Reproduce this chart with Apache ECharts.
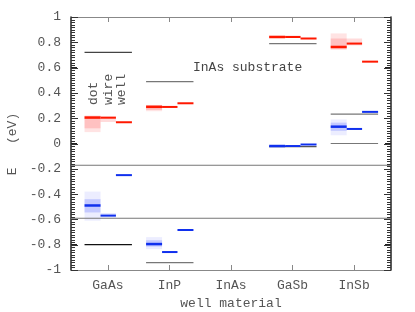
<!DOCTYPE html>
<html>
<head>
<meta charset="utf-8">
<script src="https://cdn.jsdelivr.net/npm/echarts@6/dist/echarts.min.js"></script>
<style>html,body{margin:0;padding:0;background:#fff;}#c{width:415px;height:312px;}</style>
</head>
<body>
<div id="c"></div>
<script>
// ---- data ----
const categories = ['GaAs', 'InP', 'InAs', 'GaSb', 'InSb'];
// conduction-band (red) main levels
const cbDot  = [0.205, 0.290, null, 0.842, 0.763];
const cbWire = [0.204, 0.289, null, 0.842, 0.790];
const cbWell = [0.168, 0.318, null, 0.830, 0.647];
// valence-band (blue) main levels
const vbDot  = [-0.490, -0.795, null, -0.020, 0.133];
const vbWire = [-0.570, -0.858, null, -0.020, 0.115];
const vbWell = [-0.250, -0.684, null, -0.008, 0.250];
// bulk band edges of each well material (grey/black bars)
const edgeHigh = [0.720, 0.489, null, 0.790, 0.233];
const edgeLow  = [-0.800, -0.942, null, -0.025, 0.000];
const edgeColors = ['#444', '#777', null, '#777', '#777'];
const edgeLowColors = ['#111', '#777', null, '#555', '#777'];
// InAs substrate band edges (full-width lines)
const substrateEdges = [-0.172, -0.591];
// faint spreads of dot / wire levels [low, high]
const cbDotSpread  = [[0.09, 0.222], [0.255, 0.305], null, [0.835, 0.852], [0.74, 0.87]];
const cbDotCore    = [[0.12, 0.215], [0.265, 0.300], null, null, [0.75, 0.83]];
const cbWireSpread = [[0.17, 0.215], [0.282, 0.296], null, [0.838, 0.854], [0.775, 0.83]];
const vbDotSpread  = [[-0.61, -0.38], [-0.835, -0.74], null, [-0.026, -0.014], [0.065, 0.19]];
const vbDotCore    = [[-0.545, -0.44], [-0.815, -0.765], null, null, [0.10, 0.165]];
const vbWireSpread = [[-0.585, -0.55], [-0.866, -0.85], null, null, [0.108, 0.122]];

// ---- build drawing items ----
const X_MIN = -0.6, X_MAX = 4.6, Y_MIN = -1, Y_MAX = 1;
const DOT = [-0.38, -0.12], WIRE = [-0.12, 0.13], WELL = [0.13, 0.39], FULL = [-0.38, 0.39];
const RED = '#ff1800', BLUE = '#1030ee';
const items = [];
function addLine(vals, span, color, w) {
  vals.forEach((v, i) => {
    if (v !== null) items.push({ value: [i + span[0], i + span[1], v, v], t: 'line', color: Array.isArray(color) ? color[i] : color, w });
  });
}
function addBand(vals, span, color) {
  vals.forEach((b, i) => { if (b) items.push({ value: [i + span[0], i + span[1], b[0], b[1]], t: 'rect', color }); });
}
addBand(cbDotSpread, DOT, 'rgba(255,40,40,0.13)');
addBand(cbDotCore, DOT, 'rgba(255,40,40,0.18)');
addBand(cbWireSpread, WIRE, 'rgba(255,40,40,0.17)');
addBand(vbDotSpread, DOT, 'rgba(40,60,255,0.09)');
addBand(vbDotCore, DOT, 'rgba(40,60,255,0.2)');
addBand(vbWireSpread, WIRE, 'rgba(40,60,255,0.13)');
addLine(edgeHigh, FULL, edgeColors, 1.2);
addLine(edgeLow, FULL, edgeLowColors, 1.2);
addLine(cbDot, DOT, RED, 2.5);
addLine(cbWire, WIRE, RED, 2);
addLine(cbWell, WELL, RED, 2);
addLine(vbDot, DOT, BLUE, 2.5);
addLine(vbWire, WIRE, BLUE, 2);
addLine(vbWell, WELL, BLUE, 2);
substrateEdges.forEach(v => items.push({ value: [X_MIN, X_MAX, v, v], t: 'line', color: '#777', w: 1 }));

// y-axis tick comb (major every 0.2, minor every 0.02)
const tickItems = [];
for (let k = 0; k <= 100; k++) tickItems.push([X_MIN, +(Y_MIN + k * 0.02).toFixed(2), k % 10 === 0 ? 1 : 0]);

const FONT = 'Liberation Mono';
const chart = echarts.init(document.getElementById('c'), null, { renderer: 'canvas' });
const xCommon = {
  type: 'value', min: X_MIN, max: X_MAX,
  axisLine: { show: true, onZero: false, lineStyle: { color: '#888', width: 1 } },
  axisTick: { show: true, inside: true, length: 5, customValues: [0, 1, 2, 3, 4], lineStyle: { color: '#888' } },
  splitLine: { show: false }
};
const yCommon = {
  type: 'value', min: Y_MIN, max: Y_MAX, interval: 0.2,
  axisLine: { show: true, onZero: false, lineStyle: { color: '#222', width: 1.5 } },
  axisTick: { show: true, inside: true, length: 6, lineStyle: { color: '#222', width: 1 } },
  splitLine: { show: false }
};
chart.setOption({
  animation: false,
  backgroundColor: '#fff',
  grid: { left: 71, right: 24, top: 17, bottom: 42 },
  xAxis: [
    Object.assign({}, xCommon, { position: 'bottom',
      axisLabel: { show: true, margin: 9, customValues: [0, 1, 2, 3, 4], formatter: v => categories[Math.round(v)], color: '#555', fontFamily: FONT, fontSize: 13 } }),
    Object.assign({}, xCommon, { position: 'top', axisLabel: { show: false } })
  ],
  yAxis: [
    Object.assign({}, yCommon, { position: 'left',
      axisLabel: { show: true, margin: 10, color: '#555', fontFamily: FONT, fontSize: 13 } }),
    Object.assign({}, yCommon, { position: 'right', axisLabel: { show: false } })
  ],
  series: [{
    type: 'custom', xAxisIndex: 0, yAxisIndex: 0, clip: true, silent: true,
    data: items,
    renderItem: function (params, api) {
      const it = items[params.dataIndex];
      const p0 = api.coord([api.value(0), api.value(3)]);
      const p1 = api.coord([api.value(1), api.value(2)]);
      if (it.t === 'rect') {
        return { type: 'rect', shape: { x: p0[0], y: p0[1], width: p1[0] - p0[0], height: p1[1] - p0[1] }, style: { fill: it.color } };
      }
      return { type: 'line', shape: { x1: p0[0], y1: p0[1], x2: p1[0], y2: p1[1] }, style: { stroke: it.color, lineWidth: it.w } };
    }
  }, {
    type: 'custom', xAxisIndex: 0, yAxisIndex: 0, clip: false, silent: true, z: 10,
    data: tickItems,
    renderItem: function (params, api) {
      const v = api.value(1);
      const major = api.value(2) === 1;
      const pL = api.coord([X_MIN, v]);
      const pR = api.coord([X_MAX, v]);
      const len = major ? 7 : 4;
      const y = Math.round(pL[1]);
      return {
        type: 'group',
        children: [
          { type: 'rect', shape: { x: Math.round(pL[0]), y: y, width: len, height: 1 }, style: { fill: '#333' } },
          { type: 'rect', shape: { x: Math.round(pR[0]) - len, y: y, width: len, height: 1 }, style: { fill: '#333' } }
        ]
      };
    }
  }],
  graphic: [
    { type: 'text', x: 193, y: 68, style: { text: 'InAs substrate', fill: '#444', font: '13px "' + FONT + '"', align: 'left', verticalAlign: 'middle' } },
    { type: 'text', x: 94, y: 105, rotation: Math.PI / 2, style: { text: 'dot', fill: '#555', font: '13px "' + FONT + '"', align: 'left', verticalAlign: 'middle' } },
    { type: 'text', x: 109, y: 105, rotation: Math.PI / 2, style: { text: 'wire', fill: '#555', font: '13px "' + FONT + '"', align: 'left', verticalAlign: 'middle' } },
    { type: 'text', x: 122, y: 105, rotation: Math.PI / 2, style: { text: 'well', fill: '#555', font: '13px "' + FONT + '"', align: 'left', verticalAlign: 'middle' } },
    { type: 'text', x: 13, y: 144, rotation: Math.PI / 2, style: { text: 'E   (eV)', fill: '#555', font: '13px "' + FONT + '"', align: 'center', verticalAlign: 'middle' } },
    { type: 'text', x: 231, y: 304, style: { text: 'well material', fill: '#555', font: '13px "' + FONT + '"', align: 'center', verticalAlign: 'middle' } }
  ]
});
</script>
</body>
</html>
